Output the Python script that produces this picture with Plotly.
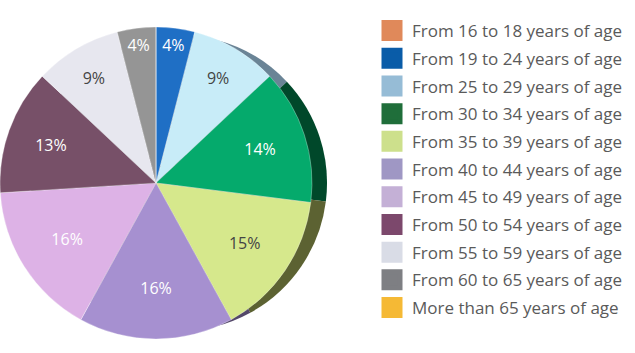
import plotly.graph_objects as go

# Age bands and share of members (%)
age_groups = [
    "From 16 to 18 years of age",
    "From 19 to 24 years of age",
    "From 25 to 29 years of age",
    "From 30 to 34 years of age",
    "From 35 to 39 years of age",
    "From 40 to 44 years of age",
    "From 45 to 49 years of age",
    "From 50 to 54 years of age",
    "From 55 to 59 years of age",
    "From 60 to 65 years of age",
    "More than 65 years of age",
]
shares = [0, 4, 9, 14, 15, 16, 16, 13, 9, 4, 0]

# Legend swatch colours
legend_colors = ["#e0895a", "#0a5ca8", "#96bcd6", "#1f6e3a", "#cde08c", "#9f97c4",
                 "#c4b0d6", "#7c486c", "#d9dce6", "#7e7f83", "#f5b935"]
# Slice face colours
face_colors = ["#e0895a", "#1f6fc5", "#c8ecf8", "#05aa6c", "#d6e88c", "#a690d0",
               "#ddb2e6", "#775068", "#e7e7ef", "#959595", "#f5b935"]
# Darker edge colours for the side of the disc
edge_colors = ["#70442d", "#0d3866", "#6a8496", "#00482a", "#5c6232", "#54486a",
               "#6e5a74", "#3c2834", "#74747a", "#4a4a4a", "#7a5c1a"]
text_colors = ["#333333", "#ffffff", "#444444", "#ffffff", "#444444", "#ffffff",
               "#ffffff", "#ffffff", "#444444", "#ffffff", "#333333"]

W, H = 635, 353
FONT = "Open Sans"

fig = go.Figure()

# side of the disc: a slightly smaller disc shifted right, so only a crescent shows
fig.add_trace(go.Pie(
    labels=age_groups, values=shares, sort=False, direction="clockwise",
    marker=dict(colors=edge_colors, line=dict(width=0)),
    textinfo="none", hoverinfo="skip", showlegend=False,
    domain=dict(x=[31 / W, 327 / W], y=[(H - 331) / H, (H - 35) / H]),
))

# front face of the disc
fig.add_trace(go.Pie(
    labels=age_groups, values=shares, sort=False, direction="clockwise",
    marker=dict(colors=face_colors, line=dict(color="rgba(255,255,255,0.5)", width=0.6)),
    texttemplate=["" if v == 0 else "%{value}%" for v in shares],
    textposition="inside", insidetextorientation="horizontal",
    textfont=dict(family=FONT, size=16, color=text_colors),
    showlegend=False,
    domain=dict(x=[0, 312 / W], y=[(H - 339) / H, (H - 27) / H]),
))

# legend entries
for name, c in zip(age_groups, legend_colors):
    fig.add_trace(go.Scatter(
        x=[None], y=[None], mode="markers", name=name, legendgroup=name,
        marker=dict(symbol="square", size=16, color=c, line=dict(color=c, width=5)),
    ))

fig.update_layout(
    width=W, height=H,
    margin=dict(l=0, r=0, t=0, b=0),
    paper_bgcolor="white", plot_bgcolor="white",
    xaxis=dict(visible=False), yaxis=dict(visible=False),
    legend=dict(
        x=372 / W, xanchor="left", y=1 - 13 / H, yanchor="top",
        font=dict(family=FONT, size=17, color="#5a5a5a"),
        tracegroupgap=2.6, bgcolor="rgba(0,0,0,0)",
    ),
)

fig.write_html("out.html")
